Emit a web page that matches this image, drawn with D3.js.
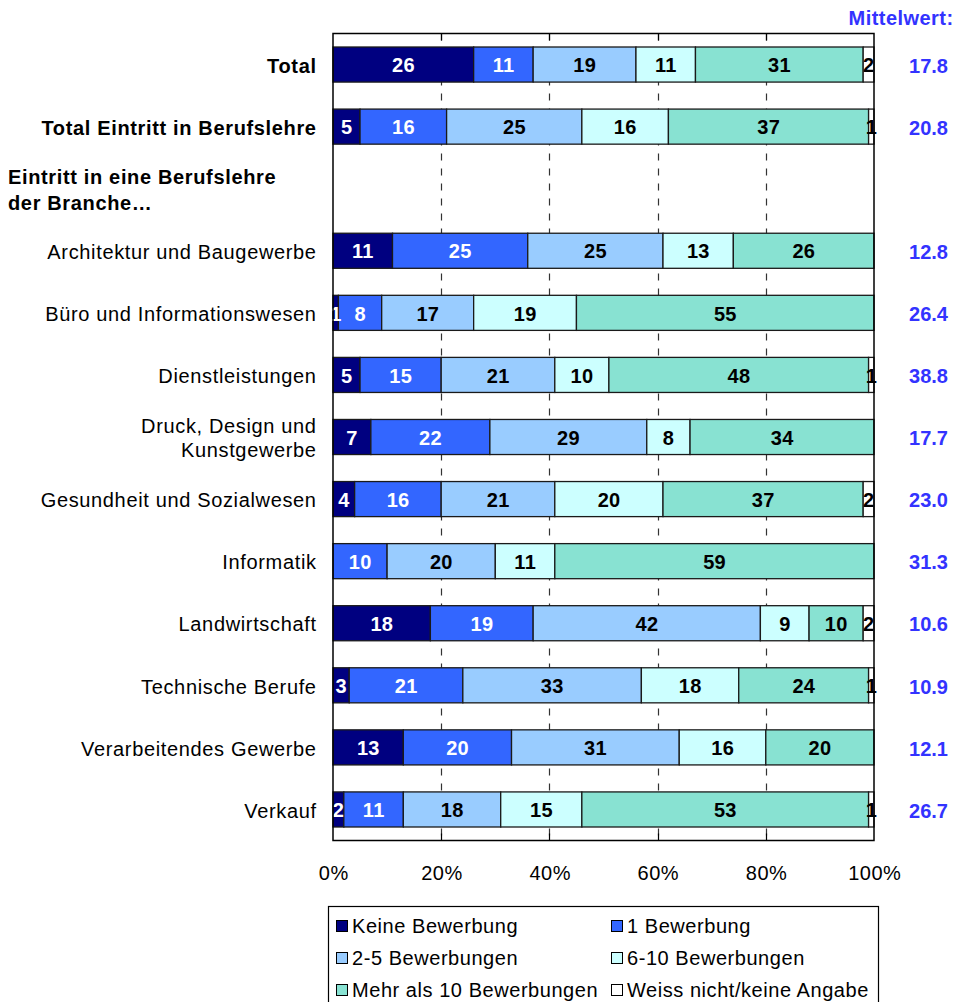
<!DOCTYPE html>
<html>
<head>
<meta charset="utf-8">
<script src="https://cdn.jsdelivr.net/npm/d3@7"></script>
<style>
  html, body { margin: 0; padding: 0; background: #fff; }
  svg { display: block; font-family: "Liberation Sans", Arial, sans-serif; }
  svg text { letter-spacing: 0.65px; }
</style>
</head>
<body>
<svg id="chart" width="957" height="1002"></svg>
<script>
// Rows of the chart (the empty row is the group heading)
const categories = [
  "Total",
  "Total Eintritt in Berufslehre",
  "__heading__",
  "Architektur und Baugewerbe",
  "Büro und Informationswesen",
  "Dienstleistungen",
  "Druck, Design und|Kunstgewerbe",
  "Gesundheit und Sozialwesen",
  "Informatik",
  "Landwirtschaft",
  "Technische Berufe",
  "Verarbeitendes Gewerbe",
  "Verkauf"
];
const boldCategories = ["Total", "Total Eintritt in Berufslehre"];
const headingLines = ["Eintritt in eine Berufslehre", "der Branche…"];

const seriesNames = [
  "Keine Bewerbung",
  "1 Bewerbung",
  "2-5 Bewerbungen",
  "6-10 Bewerbungen",
  "Mehr als 10 Bewerbungen",
  "Weiss nicht/keine Angabe"
];
const seriesColors = ["#000080", "#3366ff", "#99ccff", "#ccffff", "#88e2d2", "#ffffff"];
const labelColors  = ["#ffffff", "#ffffff", "#000000", "#000000", "#000000", "#000000"];

// Percent shares per series, one value per row (null for the heading row)
const keineBewerbung = [26, 5, null, 11, 1, 5, 7, 4, 0, 18, 3, 13, 2];
const eineBewerbung  = [11, 16, null, 25, 8, 15, 22, 16, 10, 19, 21, 20, 11];
const zweiBisFuenf   = [19, 25, null, 25, 17, 21, 29, 21, 20, 42, 33, 31, 18];
const sechsBisZehn   = [11, 16, null, 13, 19, 10, 8, 20, 11, 9, 18, 16, 15];
const mehrAlsZehn    = [31, 37, null, 26, 55, 48, 34, 37, 59, 10, 24, 20, 53];
const weissNicht     = [2, 1, null, 0, 0, 1, 0, 2, 0, 2, 1, 0, 1];
const seriesValues = [keineBewerbung, eineBewerbung, zweiBisFuenf, sechsBisZehn, mehrAlsZehn, weissNicht];

const mittelwert = ["17.8", "20.8", null, "12.8", "26.4", "38.8", "17.7", "23.0", "31.3", "10.6", "10.9", "12.1", "26.7"];
const xTicks = [0, 20, 40, 60, 80, 100];

const svg = d3.select("#chart");
const plot = { left: 333, right: 874, top: 33.5, bottom: 840.5 };
const LS = 0.65;  // letter spacing of the labels
const FS = 20;    // base font size

const x = d3.scaleLinear().domain([0, 100]).range([plot.left, plot.right]);
const y = d3.scaleBand().domain(categories).range([plot.top, plot.bottom]).paddingInner(0.435).paddingOuter(0.2175);

// dashed gridlines
svg.append("g").selectAll("line")
  .data([20, 40, 60, 80]).join("line")
  .attr("x1", d => Math.round(x(d)) + 0.5).attr("x2", d => Math.round(x(d)) + 0.5)
  .attr("y1", plot.top).attr("y2", plot.bottom)
  .attr("stroke", "#333").attr("stroke-width", 1.2)
  .attr("stroke-dasharray", "7,8");

// stacked data
const rows = categories.map((c, i) => {
  if (seriesValues[0][i] === null) return null;
  let acc = 0;
  return seriesValues.map((s, k) => {
    const v = s[i];
    const seg = { cat: c, k, v, x0: acc, x1: acc + v };
    acc += v;
    return seg;
  });
}).filter(Boolean);
const segments = rows.flat().filter(d => d.v > 0);

const bars = svg.append("g");
bars.selectAll("rect").data(segments).join("rect")
  .attr("x", d => x(d.x0)).attr("width", d => x(d.x1) - x(d.x0))
  .attr("y", d => y(d.cat)).attr("height", y.bandwidth())
  .attr("fill", d => seriesColors[d.k])
  .attr("stroke", "#1a1a1a").attr("stroke-width", 1.3);

bars.selectAll("text").data(segments).join("text")
  .attr("x", d => (x(d.x0) + x(d.x1)) / 2 + 0.15)
  .attr("y", d => y(d.cat) + y.bandwidth() / 2 + 0.5)
  .attr("dy", "0.36em")
  .attr("text-anchor", "middle")
  .attr("font-size", FS).attr("font-weight", "bold")
  .style("letter-spacing", "0.3px")
  .attr("fill", d => labelColors[d.k])
  .text(d => d.v);

// frame and axes
svg.append("rect")
  .attr("x", plot.left).attr("y", plot.top)
  .attr("width", plot.right - plot.left).attr("height", plot.bottom - plot.top)
  .attr("fill", "none").attr("stroke", "#000").attr("stroke-width", 1.5);

const ticks = svg.append("g");
ticks.selectAll("line.b").data([20, 40, 60, 80]).join("line").attr("class", "b")
  .attr("x1", d => Math.round(x(d)) + 0.5).attr("x2", d => Math.round(x(d)) + 0.5)
  .attr("y1", plot.bottom).attr("y2", plot.bottom - 7)
  .attr("stroke", "#000").attr("stroke-width", 1.2);
ticks.selectAll("line.t").data([20, 40, 60, 80]).join("line").attr("class", "t")
  .attr("x1", d => Math.round(x(d)) + 0.5).attr("x2", d => Math.round(x(d)) + 0.5)
  .attr("y1", plot.top).attr("y2", plot.top + 7)
  .attr("stroke", "#000").attr("stroke-width", 1.2);

const xAxis = d3.axisBottom(x).tickValues(xTicks).tickFormat(d => d + "%").tickSize(0).tickPadding(0);
const gx = svg.append("g").attr("transform", `translate(0.25,${plot.bottom + 39})`).call(xAxis);
gx.select(".domain").remove();
gx.selectAll("text").attr("font-size", FS).attr("fill", "#000")
  .attr("font-family", "Liberation Sans, Arial, sans-serif").attr("dy", "0")
  .style("letter-spacing", "0.5px");

// category labels
const catG = svg.append("g");
const labelRight = 316 + LS;
categories.forEach(c => {
  if (c === "__heading__") return;
  const cy = y(c) + y.bandwidth() / 2 + 1;
  const lines = c.split("|");
  const t = catG.append("text")
    .attr("x", labelRight).attr("text-anchor", "end")
    .attr("font-size", FS)
    .attr("font-weight", boldCategories.includes(c) ? "bold" : "normal")
    .attr("fill", "#000");
  lines.forEach((ln, i) => {
    t.append("tspan").attr("x", labelRight)
      .attr("y", cy + (i - (lines.length - 1) / 2) * 24)
      .attr("dy", "0.36em").text(ln);
  });
});
const hy = y("__heading__") + y.bandwidth() / 2;
const heading = catG.append("text").attr("font-size", FS).attr("font-weight", "bold").attr("fill", "#000");
headingLines.forEach((ln, i) => {
  heading.append("tspan").attr("x", 8).attr("y", hy - 5 + i * 26).text(ln);
});

// mean values
svg.append("text")
  .attr("x", 953.5).attr("y", 25).attr("text-anchor", "end")
  .attr("font-size", FS).attr("font-weight", "bold").attr("fill", "#3333ff")
  .style("letter-spacing", "0.45px")
  .text("Mittelwert:");
svg.append("g").selectAll("text")
  .data(categories.map((c, i) => ({ c, m: mittelwert[i] })).filter(d => d.m !== null))
  .join("text")
  .attr("x", 948).attr("text-anchor", "end")
  .attr("y", d => y(d.c) + y.bandwidth() / 2 + 1).attr("dy", "0.36em")
  .attr("font-size", FS).attr("font-weight", "bold").attr("fill", "#3333ff")
  .style("letter-spacing", "0px")
  .text(d => d.m);

// legend
const legend = svg.append("g");
legend.append("rect")
  .attr("x", 328.5).attr("y", 906.5).attr("width", 550).attr("height", 100)
  .attr("fill", "#fff").attr("stroke", "#000").attr("stroke-width", 1.2);
const legX = [336, 611];
const legY = [926, 958, 990];
seriesNames.forEach((name, i) => {
  const lx = legX[i % 2], ly = legY[Math.floor(i / 2)];
  legend.append("rect")
    .attr("x", lx + 0.5).attr("y", ly - 5.5).attr("width", 11).attr("height", 11)
    .attr("fill", seriesColors[i]).attr("stroke", "#000").attr("stroke-width", 1);
  legend.append("text")
    .attr("x", lx + 16).attr("y", ly).attr("dy", "0.36em")
    .attr("font-size", FS).attr("fill", "#000")
    .style("letter-spacing", "0.55px")
    .text(name);
});
</script>
</body>
</html>
